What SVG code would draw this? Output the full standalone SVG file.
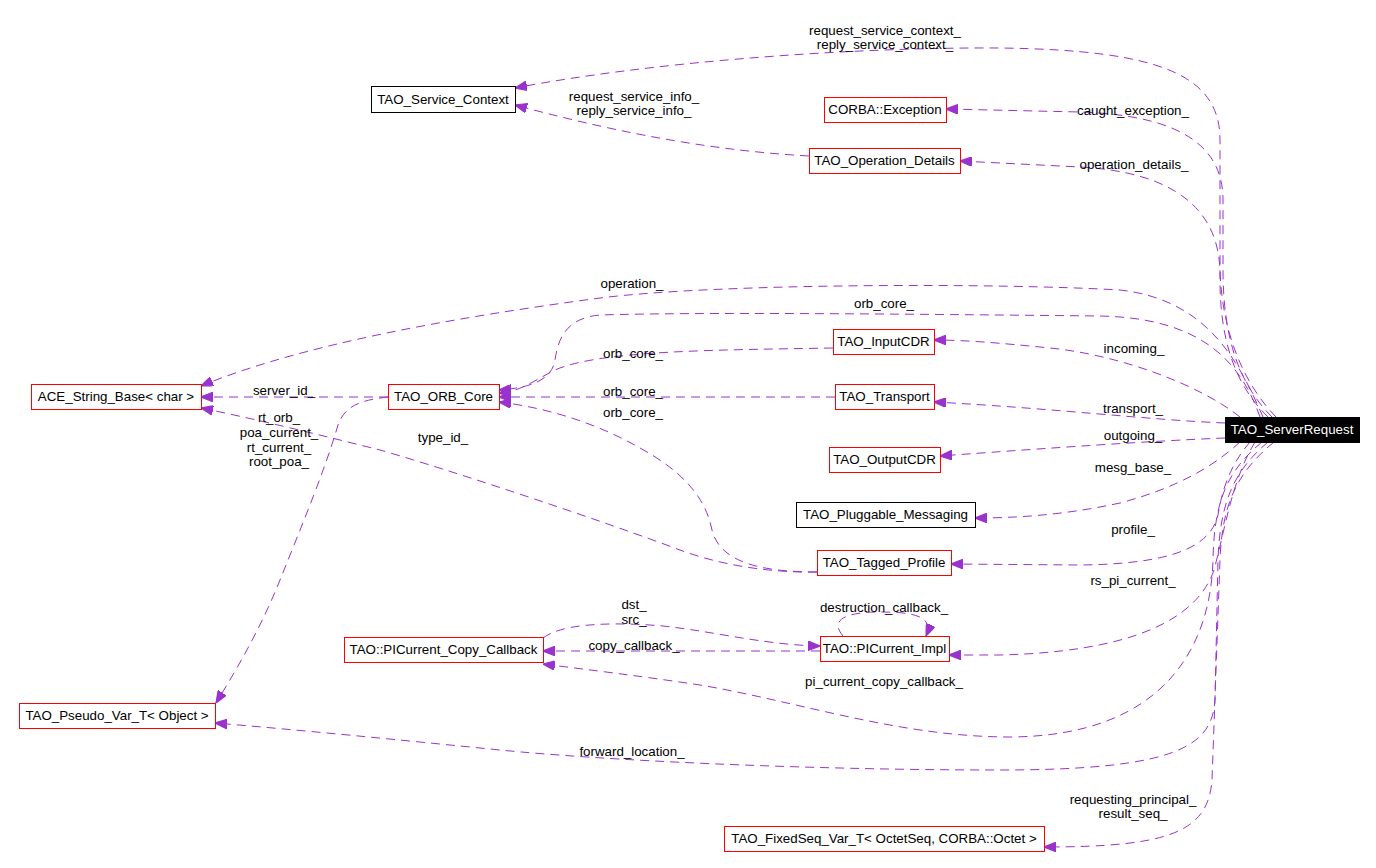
<svg xmlns="http://www.w3.org/2000/svg" width="1376" height="868" viewBox="0 0 1376 868">
<style>
text{font-family:"Liberation Sans",Arial,sans-serif;font-size:13.33px;text-anchor:middle;fill:#000}
.node rect{fill:#fff;stroke:#ff0000;stroke-width:1;shape-rendering:crispEdges}
.node.blk rect{stroke:#000}
.node.main rect{fill:#000;stroke:#000}
.node.main text{fill:#fff}
.edges path{fill:none;stroke:#9a32cd;stroke-width:1;stroke-dasharray:9,6;marker-end:url(#arr)}
</style>
<defs>
<marker id="arr" markerUnits="userSpaceOnUse" viewBox="0 0 10 8" refX="10" refY="4" markerWidth="12" markerHeight="9.6" orient="auto">
<path d="M0,0 L10,4 L0,8 z" fill="#9a32cd" stroke="#9a32cd"/>
</marker>
</defs>
<rect width="1376" height="868" fill="#fff"/>
<g id="edges" class="edges">
<path d="M1268,417 C1235,385 1220,340 1220,280 L1220,140 C1220,75 1160,50 1000,48 C850,47 650,62 515,88"/>
<path d="M809,156 C700,150 600,128 515,105"/>
<path d="M1272,417 C1240,385 1223,340 1223,270 L1223,200 C1223,140 1170,115 1080,112 L946,109"/>
<path d="M1276,417 C1245,385 1222,335 1220,270 C1218,210 1175,172 1080,167 L960,161"/>
<path d="M1263,417 C1240,365 1210,300 1120,290 C1000,283 720,283 600,298 C450,318 300,345 201,386"/>
<path d="M1260,417 C1240,360 1200,318 1100,316 C900,314 700,312 600,315 C565,318 558,340 555,360 C552,380 530,388 499,390"/>
<path d="M833,348 C720,350 600,350 555,370 C535,380 520,392 499,393"/>
<path d="M835,397 L499,397"/>
<path d="M817,572 C760,572 720,562 712,530 C705,495 680,470 640,448 C600,425 550,408 499,402"/>
<path d="M388,397 L201,397"/>
<path d="M817,572 C770,573 720,565 680,550 C600,520 450,470 380,450 C320,435 260,420 201,408"/>
<path d="M388,397 C362,400 345,405 338,425 C325,470 300,530 280,580 C260,630 235,672 216,703"/>
<path d="M1240,417 C1200,385 1120,355 1050,348 C1000,343 965,340 934,340"/>
<path d="M1225,423 C1150,420 1050,408 934,402"/>
<path d="M1225,438 C1150,441 1050,448 940,456"/>
<path d="M1240,442 C1215,465 1180,487 1120,503 C1060,516 1010,518 975,518"/>
<path d="M1250,442 C1230,465 1222,490 1218,515 C1210,548 1170,564 1080,565 L951,564"/>
<path d="M1255,442 C1232,480 1226,525 1214,570 C1195,625 1120,652 1000,655 L949,655"/>
<path d="M820,651 L543,651"/>
<path d="M543,638 C560,625 600,622 650,625 C700,628 760,645 820,646"/>
<path d="M843,636 C828,618 850,612 880,612 C910,612 935,615 926,636"/>
<path d="M1262,442 C1228,470 1214,500 1213,560 C1211,640 1170,736 1010,737 C900,737 800,702 700,685 C640,676 590,670 543,664"/>
<path d="M1268,442 C1235,470 1220,500 1218,560 L1215,700 C1212,745 1180,770 1000,770 C800,770 600,760 500,750 C400,740 300,730 215,723"/>
<path d="M1274,442 C1240,470 1222,500 1220,560 L1212,780 C1208,832 1170,847 1044,847"/>
</g>
<g id="edge-labels">
<text x="885" y="35">request_service_context_</text>
<text x="885" y="49">reply_service_context_</text>
<text x="634" y="101">request_service_info_</text>
<text x="634" y="115">reply_service_info_</text>
<text x="1133" y="115">caught_exception_</text>
<text x="1134" y="169">operation_details_</text>
<text x="632" y="288">operation_</text>
<text x="884" y="308">orb_core_</text>
<text x="1134" y="353">incoming_</text>
<text x="633" y="358">orb_core_</text>
<text x="284" y="395">server_id_</text>
<text x="633" y="396">orb_core_</text>
<text x="633" y="417">orb_core_</text>
<text x="1133" y="413">transport_</text>
<text x="279" y="422">rt_orb_</text>
<text x="279" y="437">poa_current_</text>
<text x="279" y="452">rt_current_</text>
<text x="279" y="466">root_poa_</text>
<text x="443" y="442">type_id_</text>
<text x="1133" y="440">outgoing_</text>
<text x="1133" y="472">mesg_base_</text>
<text x="1133" y="534">profile_</text>
<text x="1133" y="585">rs_pi_current_</text>
<text x="634" y="609">dst_</text>
<text x="634" y="624">src_</text>
<text x="884" y="612">destruction_callback_</text>
<text x="634" y="650">copy_callback_</text>
<text x="884" y="686">pi_current_copy_callback_</text>
<text x="632" y="756">forward_location_</text>
<text x="1133" y="804">requesting_principal_</text>
<text x="1133" y="818">result_seq_</text>
</g>
<g id="n_servicecontext" class="node blk"><rect x="371" y="86" width="144" height="26"/><text x="443" y="103.5">TAO_Service_Context</text></g>
<g id="n_exception" class="node"><rect x="824" y="97" width="122" height="25"/><text x="885" y="114">CORBA::Exception</text></g>
<g id="n_opdetails" class="node"><rect x="809" y="148" width="151" height="25"/><text x="884.5" y="165">TAO_Operation_Details</text></g>
<g id="n_acestring" class="node"><rect x="31" y="384" width="170" height="25"/><text x="116" y="401">ACE_String_Base&lt; char &gt;</text></g>
<g id="n_orbcore" class="node"><rect x="388" y="384" width="111" height="25"/><text x="443.5" y="401">TAO_ORB_Core</text></g>
<g id="n_inputcdr" class="node"><rect x="833" y="329" width="101" height="25"/><text x="883.5" y="346">TAO_InputCDR</text></g>
<g id="n_transport" class="node"><rect x="835" y="384" width="99" height="25"/><text x="884.5" y="401">TAO_Transport</text></g>
<g id="n_outputcdr" class="node"><rect x="829" y="447" width="111" height="25"/><text x="884.5" y="464">TAO_OutputCDR</text></g>
<g id="n_serverrequest" class="node main"><rect x="1225" y="417" width="134" height="25"/><text x="1292" y="434">TAO_ServerRequest</text></g>
<g id="n_pluggable" class="node blk"><rect x="796" y="502" width="179" height="25"/><text x="885.5" y="519">TAO_Pluggable_Messaging</text></g>
<g id="n_tagged" class="node"><rect x="817" y="550" width="134" height="25"/><text x="884" y="567">TAO_Tagged_Profile</text></g>
<g id="n_piimpl" class="node"><rect x="820" y="636" width="129" height="25"/><text x="884.5" y="653">TAO::PICurrent_Impl</text></g>
<g id="n_copycb" class="node"><rect x="344" y="637" width="199" height="25"/><text x="443.5" y="654">TAO::PICurrent_Copy_Callback</text></g>
<g id="n_pseudo" class="node"><rect x="19" y="703" width="196" height="25"/><text x="117" y="720">TAO_Pseudo_Var_T&lt; Object &gt;</text></g>
<g id="n_fixedseq" class="node"><rect x="724" y="826" width="320" height="25"/><text x="884" y="843">TAO_FixedSeq_Var_T&lt; OctetSeq, CORBA::Octet &gt;</text></g>
</svg>
